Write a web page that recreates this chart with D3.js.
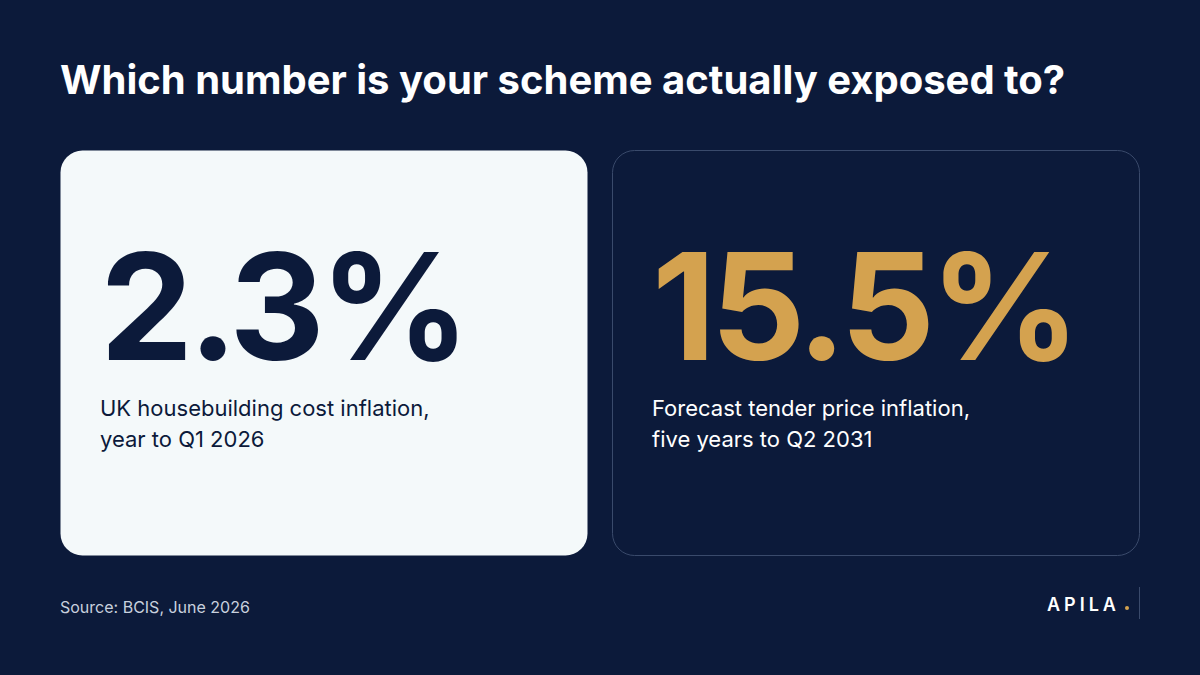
<!DOCTYPE html>
<html><head><meta charset="utf-8">
<script src="https://cdn.jsdelivr.net/npm/d3@7"></script>
<style>body{margin:0;background:#0c1a3a}svg{display:block}</style>
</head><body>
<script>
const title = "Which number is your scheme actually exposed to?";
const values = ["2.3%", "15.5%"];
const labels = [["UK housebuilding cost inflation,", "year to Q1 2026"], ["Forecast tender price inflation,", "five years to Q2 2031"]];
const source = "Source: BCIS, June 2026";

const svg = d3.select("body").append("svg").attr("width",1200).attr("height",675);
svg.append("rect").attr("width",1200).attr("height",675).attr("fill","#0c1a3a");
svg.append("text").attr("x",60).attr("y",94).text(title)
  .attr("font-family","Inter").attr("font-weight",700).attr("font-size",40).attr("fill","#fff");

const x = d3.scaleBand().domain([0,1]).range([60,1140]).paddingInner(0.0435);
const styles = [
  {fill:"#f4f9fa", stroke:"none", num:"#0c1a3a", lab:"#0c1a3a"},
  {fill:"#0c1a3a", stroke:"#3a4a6b", num:"#d4a24f", lab:"#fff"}
];
values.forEach((v,i)=>{
  const g = svg.append("g").attr("transform",`translate(${x(i)},150)`);
  const s = styles[i];
  g.append("rect").attr("x",0.5).attr("y",0.5).attr("width",x.bandwidth()-1).attr("height",405)
    .attr("rx",22).attr("fill",s.fill).attr("stroke",s.stroke);
  g.append("text").attr("x",40).attr("y",210).text(v)
    .attr("font-family","Inter").attr("font-weight",700).attr("font-size",148).attr("letter-spacing",-5).attr("fill",s.num);
  labels[i].forEach((l,j)=>g.append("text").attr("x",40).attr("y",266+j*31).text(l)
    .attr("font-family","Inter").attr("font-size",22).attr("fill",s.lab));
});
svg.append("text").attr("x",60).attr("y",613).text(source)
  .attr("font-family","Inter").attr("font-size",16).attr("fill","#c8d0de");
svg.append("text").attr("x",1047).attr("y",611).text("APILA")
  .attr("font-family","Inter").attr("font-weight",600).attr("font-size",18).attr("letter-spacing",4).attr("fill","#fff");
svg.append("circle").attr("cx",1127).attr("cy",608).attr("r",2).attr("fill","#d4a24f");
svg.append("line").attr("x1",1139.5).attr("x2",1139.5).attr("y1",587).attr("y2",619).attr("stroke","#3a4a6b");
</script>
</body></html>
